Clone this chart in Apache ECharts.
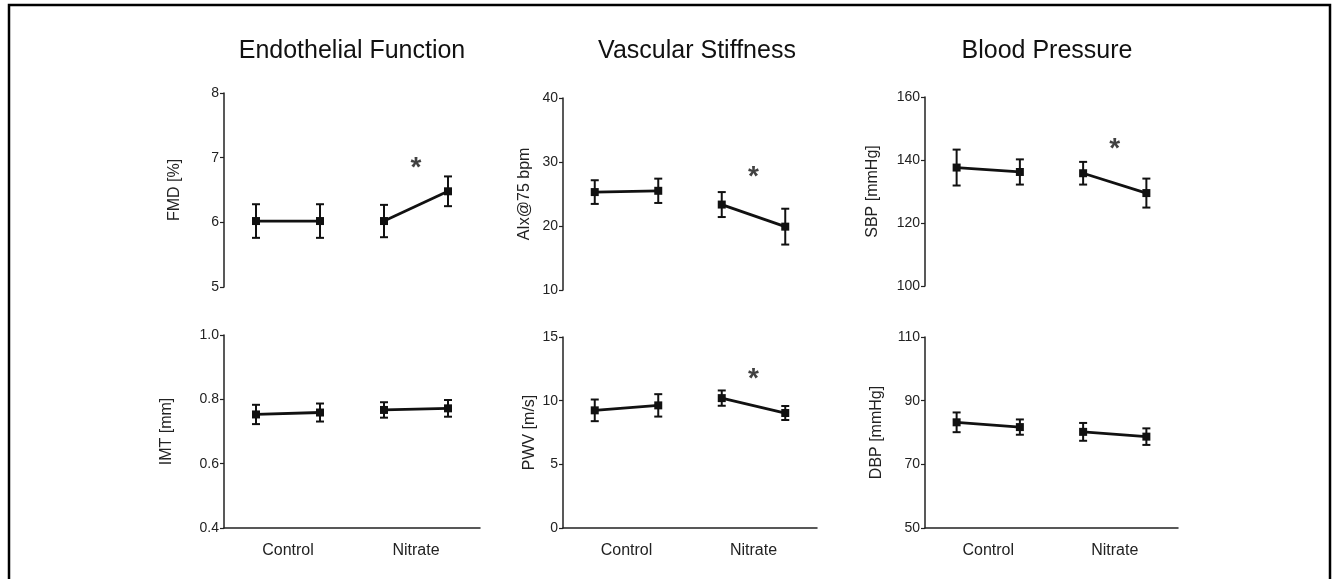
<!DOCTYPE html>
<html>
<head>
<meta charset="utf-8">
<script src="https://cdn.jsdelivr.net/npm/echarts@6/dist/echarts.min.js"></script>
<style>
  html, body { margin: 0; padding: 0; background: #fff; }
  #chart { width: 1335px; height: 579px; }
</style>
</head>
<body>
<div id="chart"></div>
<script>
// group labels and the 4 time points (pre/post for each group)
var groups = ['Control', 'Nitrate'];
var timePoints = [1, 2, 3, 4];

// Endothelial function
var fmdMean = [6.02, 6.02, 6.02, 6.48];
var fmdErr = [0.26, 0.26, 0.25, 0.23];
var fmdTicks = [5, 6, 7, 8];
var fmdStar = 6.84;

var imtMean = [0.753, 0.759, 0.767, 0.772];
var imtErr = [0.030, 0.028, 0.024, 0.026];
var imtTicks = [0.4, 0.6, 0.8, 1.0];

// Vascular stiffness
var aixMean = [25.3, 25.5, 23.35, 19.9];
var aixErr = [1.85, 1.9, 1.95, 2.8];
var aixTicks = [10, 20, 30, 40];
var aixStar = 27.6;

var pwvMean = [9.24, 9.63, 10.2, 9.03];
var pwvErr = [0.85, 0.88, 0.6, 0.55];
var pwvTicks = [0, 5, 10, 15];
var pwvStar = 11.68;

// Blood pressure
var sbpMean = [137.6, 136.2, 135.8, 129.5];
var sbpErr = [5.7, 4.0, 3.6, 4.6];
var sbpTicks = [100, 120, 140, 160];
var sbpStar = 143.4;

var dbpMean = [83.2, 81.7, 80.2, 78.7];
var dbpErr = [3.1, 2.4, 2.8, 2.6];
var dbpTicks = [50, 70, 90, 110];

var FONT = '"Liberation Sans", Arial, sans-serif';

var panels = [
    {name: 'FMD [%]', mean: fmdMean, err: fmdErr, ticks: fmdTicks, star: fmdStar,
     grid: {left: 224, top: 93, width: 256, height: 194}, gap: 41, bottom: false},
    {name: 'IMT [mm]', mean: imtMean, err: imtErr, ticks: imtTicks, star: null, dec: 1,
     grid: {left: 224, top: 335, width: 256, height: 193}, gap: 49, bottom: true},
    {name: 'AIx@75 bpm', mean: aixMean, err: aixErr, ticks: aixTicks, star: aixStar,
     grid: {left: 563, top: 98, width: 254, height: 192}, gap: 30, bottom: false},
    {name: 'PWV [m/s]', mean: pwvMean, err: pwvErr, ticks: pwvTicks, star: pwvStar,
     grid: {left: 563, top: 337, width: 254, height: 191}, gap: 25, bottom: true},
    {name: 'SBP [mmHg]', mean: sbpMean, err: sbpErr, ticks: sbpTicks, star: sbpStar,
     grid: {left: 925, top: 97, width: 253, height: 189}, gap: 44, bottom: false},
    {name: 'DBP [mmHg]', mean: dbpMean, err: dbpErr, ticks: dbpTicks, star: null,
     grid: {left: 925, top: 337, width: 253, height: 191}, gap: 40, bottom: true}
];

var grids = [], xAxes = [], yAxes = [], series = [];

function errorBar(params, api) {
    var x = api.value(0);
    var top = api.coord([x, api.value(2)]);
    var bot = api.coord([x, api.value(1)]);
    var style = {stroke: '#111', lineWidth: 2};
    var w = 4;
    return {
        type: 'group',
        children: [
            {type: 'line', shape: {x1: top[0], y1: top[1], x2: bot[0], y2: bot[1]}, style: style},
            {type: 'line', shape: {x1: top[0] - w, y1: top[1], x2: top[0] + w, y2: top[1]}, style: style},
            {type: 'line', shape: {x1: bot[0] - w, y1: bot[1], x2: bot[0] + w, y2: bot[1]}, style: style}
        ]
    };
}

panels.forEach(function (p, i) {
    grids.push(p.grid);
    // value axis carrying the points
    xAxes.push({type: 'value', gridIndex: i, min: 0.5, max: 4.5, show: false});
    // category axis for the group labels
    xAxes.push({
        type: 'category', gridIndex: i, data: groups, boundaryGap: true, position: 'bottom',
        show: p.bottom,
        axisLine: {show: p.bottom, lineStyle: {color: '#222', width: 1.5}},
        axisTick: {show: false},
        axisLabel: {show: p.bottom, margin: 15, fontSize: 16, color: '#222', fontFamily: FONT}
    });
    var dec = p.dec || 0;
    yAxes.push({
        type: 'value', gridIndex: i,
        min: p.ticks[0], max: p.ticks[p.ticks.length - 1],
        name: p.name, nameLocation: 'middle', nameRotate: 90, nameGap: p.gap,
        nameTextStyle: {fontSize: 16, color: '#222', fontFamily: FONT},
        splitLine: {show: false},
        axisLine: {show: true, lineStyle: {color: '#222', width: 1.5}},
        axisTick: {show: true, length: 4, customValues: p.ticks, lineStyle: {color: '#222', width: 1.2}},
        axisLabel: {
            customValues: p.ticks, fontSize: 14, color: '#222', margin: 5, fontFamily: FONT,
            formatter: function (v) { return v.toFixed(dec); }
        }
    });

    var xIdx = i * 2;
    series.push({
        type: 'custom', xAxisIndex: xIdx, yAxisIndex: i, renderItem: errorBar, z: 2,
        data: timePoints.map(function (t, k) {
            return [t, p.mean[k] - p.err[k], p.mean[k] + p.err[k]];
        })
    });
    [[0, 1], [2, 3]].forEach(function (pair) {
        series.push({
            type: 'line', xAxisIndex: xIdx, yAxisIndex: i, z: 3,
            symbol: 'rect', symbolSize: 8, showSymbol: true,
            itemStyle: {color: '#111'},
            lineStyle: {color: '#111', width: 2.8},
            data: pair.map(function (k) { return [timePoints[k], p.mean[k]]; })
        });
    });
    if (p.star !== null) {
        series.push({
            type: 'scatter', xAxisIndex: xIdx, yAxisIndex: i, symbolSize: 1,
            itemStyle: {color: 'transparent'},
            label: {show: true, position: 'inside', formatter: '*', fontSize: 28,
                    fontWeight: 'bold', color: '#111', fontFamily: FONT},
            data: [[3.5, p.star]]
        });
    }
});

var chart = echarts.init(document.getElementById('chart'));
chart.setOption({
    animation: false,
    backgroundColor: '#fff',
    title: [
        {text: 'Endothelial Function', left: 347, top: 34, textAlign: 'center'},
        {text: 'Vascular Stiffness', left: 692, top: 34, textAlign: 'center'},
        {text: 'Blood Pressure', left: 1042, top: 34, textAlign: 'center'}
    ].map(function (t) {
        t.textStyle = {fontSize: 25, fontWeight: 'normal', color: '#111', fontFamily: FONT};
        return t;
    }),
    graphic: [{
        type: 'polyline', silent: true,
        shape: {points: [[9, 579], [9, 5], [1330, 5], [1330, 579]]},
        style: {stroke: '#000', lineWidth: 2.5, fill: null}
    }],
    grid: grids,
    xAxis: xAxes,
    yAxis: yAxes,
    series: series
});
</script>
</body>
</html>
